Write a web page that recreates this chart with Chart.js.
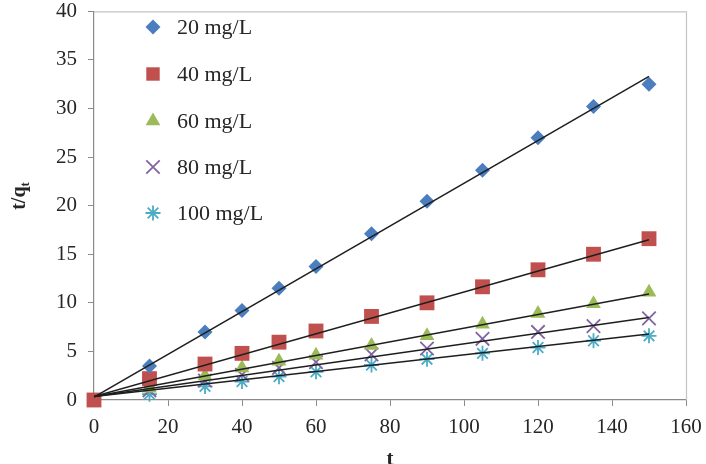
<!DOCTYPE html>
<html>
<head>
<meta charset="utf-8">
<script src="https://cdn.jsdelivr.net/npm/chart.js@4/dist/chart.umd.min.js"></script>
<style>
  html, body { margin: 0; padding: 0; background: #fff; }
  canvas { display: block; }
</style>
</head>
<body>
<canvas id="chart" width="706" height="464"></canvas>
<script>
// sampling times (min)
const times = [0, 15, 30, 40, 50, 60, 75, 90, 105, 120, 135, 150];

// t/qt for each initial concentration (null = no marker)
const labels = ['20 mg/L', '40 mg/L', '60 mg/L', '80 mg/L', '100 mg/L'];
const c20 = [null, 3.5, 7.0, 9.2, 11.5, 13.75, 17.1, 20.45, 23.65, 27.0, 30.2, 32.5];
const c40 = [0, 2.2, 3.7, 4.8, 5.95, 7.1, 8.6, 10.0, 11.65, 13.4, 15.0, 16.6];
const c60 = [null, 1.2, 2.5, 3.3, 4.0, 4.6, 5.6, 6.6, 7.8, 8.9, 9.9, 11.1];
const c80 = [null, 1.0, 2.0, 2.6, 3.3, 3.9, 4.7, 5.3, 6.3, 7.0, 7.6, 8.4];
const c100 = [null, 0.6, 1.4, 1.9, 2.4, 2.9, 3.6, 4.2, 4.8, 5.4, 6.1, 6.6];

// linear fit lines, value at t = 0 and t = 150
const fitT = [0, 150];
const fitStart = [0.3, 0.35, 0.35, 0.35, 0.35];
const fitEnd = [33.3, 16.5, 10.9, 8.5, 6.8];

const xTicks = [0, 20, 40, 60, 80, 100, 120, 140, 160];
const yTicks = [0, 5, 10, 15, 20, 25, 30, 35, 40];

const series = [c20, c40, c60, c80, c100];
const colors = ['#4a7ebf', '#c0504d', '#9bbb59', '#8064a2', '#4bacc6'];
const styles = [
  { pointStyle: 'rectRot', radius: 7.5, borderWidth: 0 },
  { pointStyle: 'rect', radius: 10.5, borderWidth: 0 },
  { pointStyle: 'triangle', radius: 8.5, borderWidth: 0 },
  { pointStyle: 'crossRot', radius: 9.5, borderWidth: 1.8 },
  { pointStyle: 'star', radius: 7.5, borderWidth: 1.8 },
];

const serif = '"Liberation Serif", "DejaVu Serif", serif';
const axisColor = '#8a8a8a';
const textColor = '#262626';

const datasets = [];
series.forEach((vals, i) => {
  datasets.push({
    type: 'scatter',
    label: labels[i],
    data: times.map((t, k) => ({ x: t, y: vals[k] })).filter((p) => p.y !== null),
    pointStyle: styles[i].pointStyle,
    pointRadius: styles[i].radius,
    pointHoverRadius: styles[i].radius,
    pointBorderWidth: styles[i].borderWidth,
    backgroundColor: colors[i],
    borderColor: colors[i],
    showLine: false,
    clip: false,
    order: 1,
  });
});
series.forEach((vals, i) => {
  datasets.push({
    type: 'line',
    label: 'fit ' + labels[i],
    data: fitT.map((t, k) => ({ x: t, y: k === 0 ? fitStart[i] : fitEnd[i] })),
    borderColor: '#1e1e1e',
    borderWidth: 1.5,
    pointRadius: 0,
    fill: false,
    order: 0,
  });
});

const extras = {
  id: 'extras',
  beforeDatasetsDraw(chart) {
    const { ctx, chartArea: a } = chart;
    ctx.save();
    ctx.strokeStyle = '#c4c4c4';
    ctx.lineWidth = 1.2;
    ctx.beginPath();
    ctx.moveTo(a.left, a.top + 0.5);
    ctx.lineTo(a.right + 0.5, a.top + 0.5);
    ctx.lineTo(a.right + 0.5, a.bottom);
    ctx.stroke();
    ctx.restore();
  },
  afterDraw(chart) {
    const ctx = chart.ctx;
    ctx.save();
    // legend
    const rowY = [27, 74, 121, 167, 213];
    labels.forEach((lab, i) => {
      ctx.fillStyle = colors[i];
      ctx.strokeStyle = colors[i];
      Chart.helpers.drawPoint(ctx, {
        pointStyle: styles[i].pointStyle,
        radius: i === 1 ? 9.5 : styles[i].radius,
        rotation: 0,
        borderWidth: styles[i].borderWidth,
      }, 153, rowY[i]);
      ctx.fillStyle = textColor;
      ctx.font = '22px ' + serif;
      ctx.textBaseline = 'middle';
      ctx.textAlign = 'left';
      ctx.fillText(lab, 177, rowY[i] + 1);
    });
    // y axis title t/q_t
    ctx.translate(19, 196);
    ctx.rotate(-Math.PI / 2);
    ctx.fillStyle = textColor;
    ctx.font = 'bold 20px ' + serif;
    ctx.textBaseline = 'alphabetic';
    ctx.textAlign = 'left';
    const main = 't/q';
    const w = ctx.measureText(main).width;
    ctx.font = 'bold 13px ' + serif;
    const ws = ctx.measureText('t').width;
    const x0 = -(w + ws) / 2;
    ctx.font = 'bold 20px ' + serif;
    ctx.fillText(main, x0, 6);
    ctx.font = 'bold 13px ' + serif;
    ctx.fillText('t', x0 + w, 10);
    ctx.restore();
  },
};

new Chart(document.getElementById('chart'), {
  type: 'scatter',
  data: { datasets },
  options: {
    responsive: false,
    devicePixelRatio: 1,
    animation: false,
    layout: { padding: { top: 8, right: 20, left: 0, bottom: 0 } },
    plugins: {
      legend: { display: false },
      tooltip: { enabled: false },
    },
    scales: {
      x: {
        type: 'linear',
        min: 0,
        max: 160,
        afterBuildTicks: (scale) => { scale.ticks = xTicks.map((v) => ({ value: v })); },
        afterFit: (scale) => {
          scale.height = 64;
          scale.paddingLeft = 0;
          scale.paddingRight = 0;
        },
        ticks: {
          color: textColor,
          font: { family: serif, size: 21 },
          padding: 9,
          maxRotation: 0,
        },
        grid: { drawOnChartArea: false, drawTicks: true, tickLength: 6, color: axisColor },
        border: { color: axisColor, width: 1.2 },
        title: {
          display: true,
          text: 't',
          color: textColor,
          font: { family: serif, size: 21, weight: 'bold' },
          padding: { top: 0, bottom: -8 },
        },
      },
      y: {
        type: 'linear',
        min: 0,
        max: 40,
        afterBuildTicks: (scale) => { scale.ticks = yTicks.map((v) => ({ value: v })); },
        afterFit: (scale) => {
          scale.width = 94;
          scale.paddingTop = 0;
          scale.paddingBottom = 0;
        },
        ticks: {
          color: textColor,
          font: { family: serif, size: 21 },
          padding: 11,
        },
        grid: { drawOnChartArea: false, drawTicks: true, tickLength: 6, color: axisColor },
        border: { color: axisColor, width: 1.2 },
      },
    },
  },
  plugins: [extras],
});
</script>
</body>
</html>
